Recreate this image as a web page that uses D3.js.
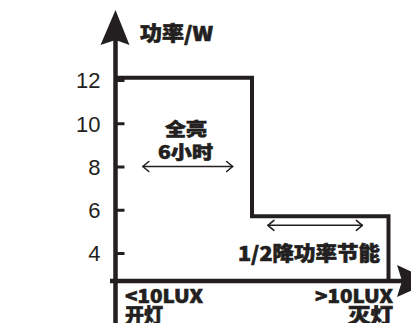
<!DOCTYPE html>
<html>
<head>
<meta charset="utf-8">
<script src="https://cdn.jsdelivr.net/npm/d3@7"></script>
<style>
  html, body { margin: 0; padding: 0; background: #fff; }
  svg { display: block; }
</style>
</head>
<body>
<div id="chart"></div>
<script>
// ---- data ----
const stepHours  = [0, 6, 12];          // hours since lights on
const stepPower  = [12.1, 5.7, 5.7];    // power (W) in each stage
const yTicks     = [4, 6, 8, 10, 12];
const yTickLabels = ["4", "6", "8", "10", "12"];
const yAxisTitle = "功率/W";
const fullLabel  = ["全亮", "6小时"];
const fullSpan   = [1.2, 5.15];         // hours covered by the "6小时" arrow
const halfLabel  = "1/2降功率节能";
const halfSpan   = [6.7, 10.85];
const startLabel = ["<10LUX", "开灯"];
const endLabel   = [">10LUX", "灭灯"];
const baseValue  = 2.7;                 // power level where the time axis sits

const W = 411, H = 323;
const ink = "#231f20";
const cjk = "'Noto Sans CJK SC', 'Noto Sans', sans-serif";

const svg = d3.select("#chart").append("svg")
  .attr("width", W).attr("height", H);

const x = d3.scaleLinear().domain([0, 12]).range([115.5, 388.5]);
const y = d3.scaleLinear().domain([4, 12]).range([253, 80]);

const x0 = x(0), yb = y(baseValue);

// ---- step line ----
const pts = stepHours.map((h, i) => [h, stepPower[i]]);
pts.push([12, baseValue]);
svg.append("path")
  .datum(pts)
  .attr("d", d3.line().x(d => x(d[0])).y(d => y(d[1])).curve(d3.curveStepAfter))
  .attr("fill", "none").attr("stroke", ink).attr("stroke-width", 4)
  .attr("stroke-linejoin", "miter");

// ---- y axis with ticks ----
const yAxis = d3.axisLeft(y).tickValues(yTicks)
  .tickFormat((d, i) => yTickLabels[i]).tickSize(-9).tickPadding(15);
const gy = svg.append("g").attr("transform", `translate(${x0},0)`).call(yAxis);
gy.select(".domain").remove();
gy.selectAll(".tick line").attr("stroke", ink).attr("stroke-width", 3);
gy.selectAll(".tick text").attr("fill", ink)
  .style("font-family", "'Liberation Sans', Arial, sans-serif")
  .style("font-size", "22px").attr("dy", "0.36em");

// axis lines
svg.append("line").attr("x1", x0).attr("x2", x0).attr("y1", 40).attr("y2", H)
  .attr("stroke", ink).attr("stroke-width", 4.5);
svg.append("line").attr("x1", 110).attr("x2", 402).attr("y1", yb).attr("y2", yb)
  .attr("stroke", ink).attr("stroke-width", 4.5);

// arrowheads
svg.append("path")
  .attr("d", `M${x0},10 L${x0 + 14},45 L${x0},40 L${x0 - 15},45 Z`)
  .attr("fill", ink);
svg.append("path")
  .attr("d", `M432,${yb} L397,${yb - 16} L402,${yb} L397,${yb + 16} Z`)
  .attr("fill", ink);

// ---- double arrows ----
function dblArrow(h0, h1, v) {
  const xa = x(h0), xb = x(h1), yy = y(v);
  const g = svg.append("g").attr("fill", "none").attr("stroke", ink)
    .attr("stroke-width", 1.6).attr("stroke-linecap", "round").attr("stroke-linejoin", "round");
  g.append("line").attr("x1", xa).attr("x2", xb).attr("y1", yy).attr("y2", yy);
  g.append("path").attr("d", `M${xa + 6},${yy - 5} L${xa},${yy} L${xa + 6},${yy + 5}`);
  g.append("path").attr("d", `M${xb - 6},${yy - 5} L${xb},${yy} L${xb - 6},${yy + 5}`);
}
dblArrow(fullSpan[0], fullSpan[1], 8);
dblArrow(halfSpan[0], halfSpan[1], 5.28);

// ---- text ----
function label(txt, xx, yy, size, len, anchor) {
  const t = svg.append("text").attr("x", xx).attr("y", yy)
    .attr("fill", ink).attr("stroke", ink).attr("stroke-width", 0.6)
    .attr("text-anchor", anchor || "start")
    .style("font-family", cjk).style("font-weight", 900)
    .style("font-size", size + "px").text(txt);
  if (len) t.attr("textLength", len).attr("lengthAdjust", "spacingAndGlyphs");
  return t;
}
label(yAxisTitle, 140, 41, 20, 73);
label(fullLabel[0], 186, 136, 18, 42, "middle");
label(fullLabel[1], 185.5, 159, 18, 55, "middle");
label(halfLabel, 238, 261, 20, 142);
label(startLabel[0], 125, 303, 19, 78);
label(startLabel[1], 125, 323, 20, 38);
label(endLabel[0], 315, 303, 19, 78);
label(endLabel[1], 393, 323, 20, 45, "end");
</script>
</body>
</html>
